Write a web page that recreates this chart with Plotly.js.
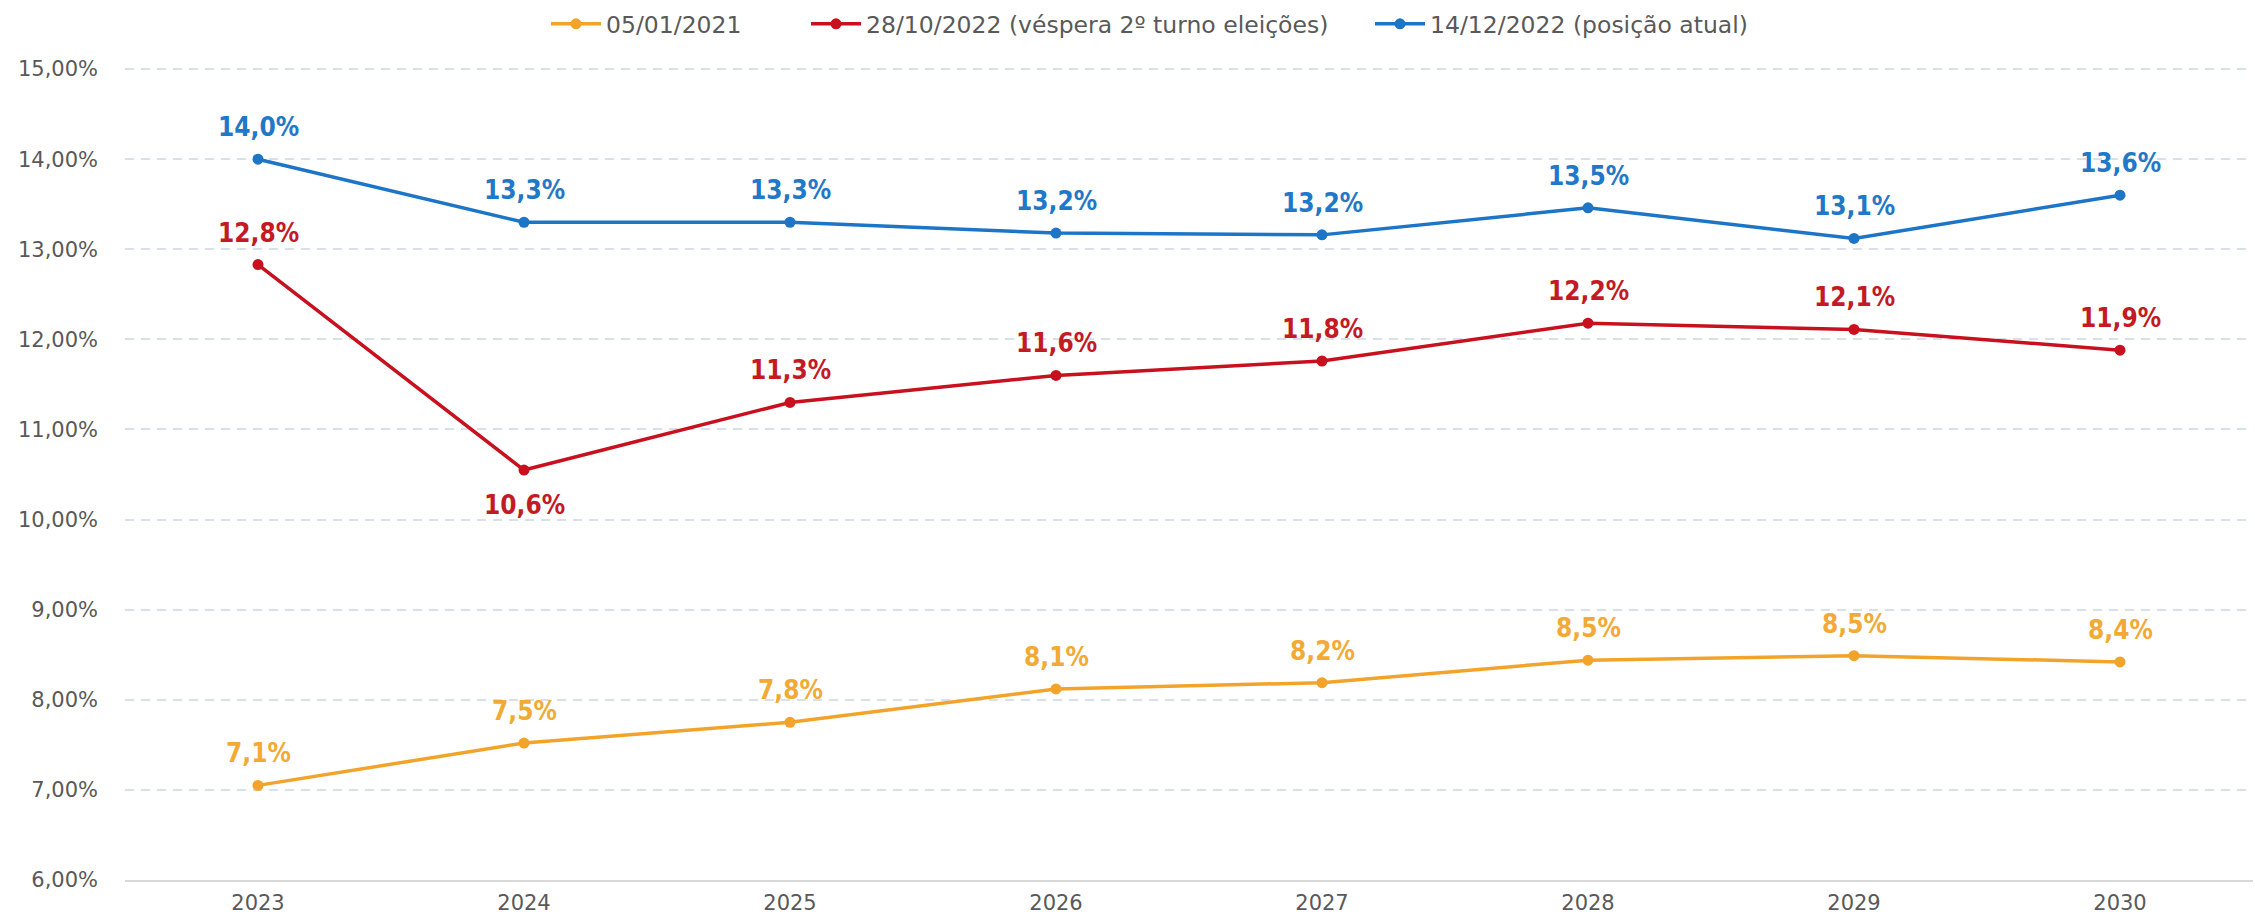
<!DOCTYPE html>
<html>
<head>
<meta charset="utf-8">
<script src="https://cdn.plot.ly/plotly-3.0.1.min.js"></script>
<style>html,body{margin:0;padding:0;background:#fff;}#chart{width:2255px;height:919px;}</style>
</head>
<body>
<div id="chart"></div>
<script>
const years = ['2023','2024','2025','2026','2027','2028','2029','2030'];
const seriesNames = ['05/01/2021', '28/10/2022 (véspera 2º turno eleições)', '14/12/2022 (posição atual)'];
const s2021 = [7.05, 7.52, 7.75, 8.12, 8.19, 8.44, 8.49, 8.42];
const sOct22 = [12.83, 10.55, 11.30, 11.60, 11.76, 12.18, 12.11, 11.88];
const sDec22 = [14.00, 13.30, 13.30, 13.18, 13.16, 13.46, 13.12, 13.60];
const labels2021 = ['7,1%','7,5%','7,8%','8,1%','8,2%','8,5%','8,5%','8,4%'];
const labelsOct22 = ['12,8%','10,6%','11,3%','11,6%','11,8%','12,2%','12,1%','11,9%'];
const labelsDec22 = ['14,0%','13,3%','13,3%','13,2%','13,2%','13,5%','13,1%','13,6%'];
const labelBelowOct22 = [false,true,false,false,false,false,false,false];
const yTicks = [6,7,8,9,10,11,12,13,14,15];
const yTickText = ['6,00%','7,00%','8,00%','9,00%','10,00%','11,00%','12,00%','13,00%','14,00%','15,00%'];

const colors = ['#F2A42A', '#C8101E', '#1C75C6'];
const labelColors = ['#F2AA35', '#C41A24', '#1F78C8'];
const allSeries = [s2021, sOct22, sDec22];
const allLabels = [labels2021, labelsOct22, labelsDec22];
const legendIds = ['legend', 'legend2', 'legend3'];

const traces = allSeries.map((s, i) => ({
  x: years, y: s, name: seriesNames[i], type: 'scatter', mode: 'lines+markers',
  line: {color: colors[i], width: 3.5},
  marker: {color: colors[i], size: 11},
  legend: legendIds[i],
  hoverinfo: 'skip'
}));

const annotations = [];
allSeries.forEach((s, i) => {
  s.forEach((v, j) => {
    const below = (i === 1 && labelBelowOct22[j]);
    annotations.push({
      x: j, y: v, xref: 'x', yref: 'y', text: '<b>' + allLabels[i][j] + '</b>',
      showarrow: false, yshift: below ? -35 : 32,
      font: {family: 'DejaVu Sans Condensed, DejaVu Sans', size: 26, color: labelColors[i]}
    });
  });
});

const legendFont = {family: 'DejaVu Sans', size: 23.5, color: '#595959'};
function legendAt(xpx) {
  return {orientation: 'h', x: (xpx - 125) / 2128, xanchor: 'left', y: 1 + (67 - 23) / 813, yanchor: 'middle',
    font: legendFont, bgcolor: 'rgba(0,0,0,0)', itemwidth: 50};
}

const layout = {
  width: 2255, height: 919,
  margin: {l: 125, r: 2, t: 66, b: 39},
  paper_bgcolor: '#ffffff', plot_bgcolor: '#ffffff',
  showlegend: true,
  legend: legendAt(546),
  legend2: legendAt(806),
  legend3: legendAt(1370),
  xaxis: {type: 'category', range: [-0.5, 7.5], showgrid: false, zeroline: false,
    showline: true, linecolor: '#D9D9D9', linewidth: 2, ticks: '', ticklabelstandoff: 3,
    tickfont: {family: 'DejaVu Sans', size: 21, color: '#595959'}, fixedrange: true},
  yaxis: {range: [6, 15.012], tickvals: yTicks, ticktext: yTickText, showgrid: true,
    gridcolor: '#D9E0EA', griddash: '9px,7px', gridwidth: 2, zeroline: false, showline: false,
    ticks: '', ticklabelstandoff: 26,
    tickfont: {family: 'DejaVu Sans', size: 21, color: '#595959'}, fixedrange: true},
  annotations: annotations
};

Plotly.newPlot('chart', traces, layout, {displayModeBar: false, staticPlot: true});
</script>
</body>
</html>
